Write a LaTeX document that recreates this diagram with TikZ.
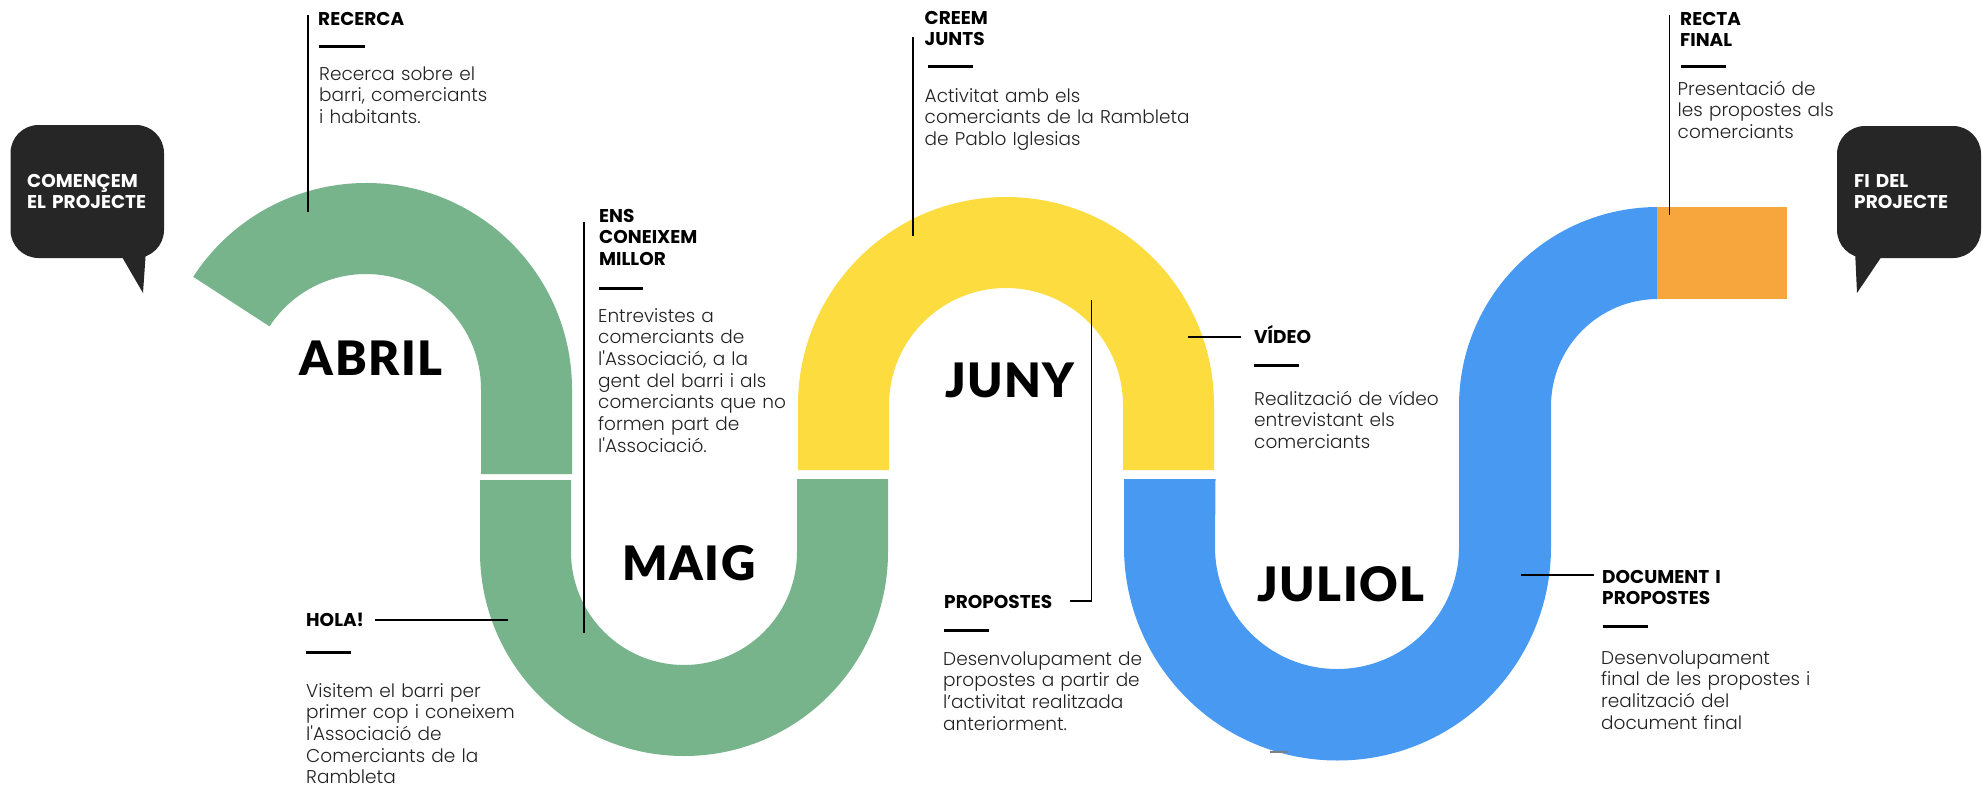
\documentclass[tikz,border=0pt]{standalone}
\usepackage{fontspec}
\setmainfont{Poppins}
\IfFontExistsTF{Poppins Light}{\newfontfamily\bodyfont{Poppins Light}}{\newfontfamily\bodyfont{Poppins}}
\IfFontExistsTF{Lato Black}{\newfontfamily\monthfont{Lato Black}[LetterSpace=3]}{\newfontfamily\monthfont{Lato Bold}[LetterSpace=3]}
\definecolor{abrilgreen}{HTML}{77B38B}
\definecolor{junyyellow}{HTML}{FCDC3F}
\definecolor{juliolblue}{HTML}{4899F2}
\definecolor{finalorange}{HTML}{F7A63E}
\definecolor{bubblegray}{HTML}{262626}
\definecolor{bodygray}{HTML}{222222}

\begin{document}
\begin{tikzpicture}[x=1pt, y=-1pt,
  lead/.style={line width=1.2pt, black},
  bar/.style={line width=3pt, black},
  head/.style={anchor=base west, inner sep=0pt, text width=300pt, align=left, font=\fontsize{18.5}{21.5}\selectfont\bfseries},
  body/.style={anchor=base west, inner sep=0pt, text width=320pt, align=left, text=bodygray, font=\bodyfont\fontsize{18.5}{21.7}\selectfont},
  month/.style={anchor=base, inner sep=0pt, font=\monthfont\fontsize{47.5}{55}\selectfont},
  bubble/.style={fill=bubblegray, rounded corners=28pt}]
	\fill[white] (0,0) rectangle (1982,788);
	\useasboundingbox (0,0) rectangle (1982,788);
	% the road
	\fill[abrilgreen] (366,389) ++(213:206) arc[start angle=213, end angle=360, radius=206] -- (572,474) -- (481,474) -- (481,389) arc[start angle=360, end angle=213, radius=115] -- cycle;
	\fill[abrilgreen] (480,480) -- (480,552) arc[start angle=180, end angle=0, radius=204] -- (888,479) -- (797,479) -- (797,552) arc[start angle=0, end angle=180, radius=113] -- (571,480) -- cycle;
	\fill[junyyellow] (798,470) -- (798,405) arc[start angle=180, end angle=360, radius=208] -- (1214,470) -- (1123,470) -- (1123,405) arc[start angle=360, end angle=180, radius=117] -- (889,470) -- cycle;
	\fill[juliolblue] (1124,479) -- (1124,547) arc[start angle=180, end angle=0, radius=213.5] -- (1551,406) arc[start angle=180, end angle=270, radius=107] -- (1658,207) arc[start angle=270, end angle=180, radius=199] -- (1459,547) arc[start angle=0, end angle=180, radius=122] -- (1215.5,479) -- cycle;
	\fill[finalorange] (1657,207) rectangle (1787,298.5);
	% bubbles
	\fill[bubble] (10.5,125) rectangle (164,258);
	\fill[bubblegray] (118,250) -- (146,250) -- (143,293) -- cycle;
	\fill[bubble] (1837,126) rectangle (1981,258);
	\fill[bubblegray] (1855,250) -- (1886,250) -- (1857,293) -- cycle;
	\node[head, text=white] (start-label) at (27,187) {COMENÇEM\\EL PROJECTE};
	\node[head, text=white] (end-label) at (1854,187) {FI DEL\\PROJECTE};
	% months
	\node[month] (abril) at (371,375) {ABRIL};
	\node[month] (maig) at (689,580) {MAIG};
	\node[month] (juny) at (1010,397) {JUNY};
	\node[month] (juliol) at (1341,601) {JULIOL};
	% steps
	\node[head] (rec-head) at (318,25) {RECERCA};
	\draw[bar] (319,46) -- (365,46);
	\node[body] (rec-text) at (319,80) {Recerca sobre el\\barri, comerciants\\i habitants.};
	\node[head] (ens-head) at (599,222) {ENS\\CONEIXEM\\MILLOR};
	\draw[bar] (599,288) -- (643,288);
	\node[body] (ens-text) at (598,322) {Entrevistes a\\comerciants de\\l\textquotesingle Associació, a la\\gent del barri i als\\comerciants que no\\formen part de\\l\textquotesingle Associació.};
	\node[head] (hola-head) at (306,626) {HOLA!};
	\draw[bar] (306,652) -- (351,652);
	\node[body] (hola-text) at (306,697) {Visitem el barri per\\primer cop i coneixem\\l\textquotesingle Associació de\\Comerciants de la\\Rambleta};
	\node[head] (creem-head) at (924.5,24) {CREEM\\JUNTS};
	\draw[bar] (927.5,66) -- (973,66);
	\node[body] (creem-text) at (924.5,102) {Activitat amb els\\comerciants de la Rambleta\\de Pablo Iglesias};
	\node[head] (video-head) at (1254,343) {VÍDEO};
	\draw[bar] (1254,365) -- (1299,365);
	\node[body] (video-text) at (1254,405) {Realització de vídeo\\entrevistant els\\comerciants};
	\node[head] (prop-head) at (944,608) {PROPOSTES};
	\draw[bar] (944,630) -- (989,630);
	\node[body] (prop-text) at (943,665) {Desenvolupament de\\propostes a partir de\\l’activitat realitzada\\anteriorment.};
	\node[head] (doc-head) at (1602,583) {DOCUMENT I\\PROPOSTES};
	\draw[bar] (1603,626) -- (1648,626);
	\node[body] (doc-text) at (1601,664) {Desenvolupament\\final de les propostes i\\realització del\\document final};
	\node[head] (recta-head) at (1680,25) {RECTA\\FINAL};
	\draw[bar] (1681,66) -- (1726,66);
	\node[body] (recta-text) at (1677.5,95) {Presentació de\\les propostes als\\comerciants};
	% leader lines
	\coordinate (rec-a) at (308,15);     \coordinate (rec-b) at (308,212);
	\coordinate (ens-a) at (584,222);    \coordinate (ens-b) at (584,633);
	\coordinate (hola-a) at (375,620);   \coordinate (hola-b) at (508,620);
	\coordinate (creem-a) at (913,37);   \coordinate (creem-b) at (913,236);
	\coordinate (video-a) at (1241,337); \coordinate (video-b) at (1188,337);
	\coordinate (prop-a) at (1070,601);  \coordinate (prop-b) at (1091.5,300);
	\coordinate (doc-a) at (1594,575);   \coordinate (doc-b) at (1521,575);
	\coordinate (recta-a) at (1669.5,15); \coordinate (recta-b) at (1669.5,215);
	\draw[lead] (rec-a) -- (rec-b);
	\draw[lead] (ens-a) -- (ens-b);
	\draw[lead] (hola-a) -- (hola-b);
	\draw[lead] (creem-a) -- (creem-b);
	\draw[lead] (video-a) -- (video-b);
	\draw[lead] (prop-a) -| (prop-b);
	\draw[lead] (doc-a) -- (doc-b);
	\draw[lead] (recta-a) -- (recta-b);
	\draw[line width=1.2pt, gray] (1270,752) -- (1288,752);
\end{tikzpicture}
\end{document}
